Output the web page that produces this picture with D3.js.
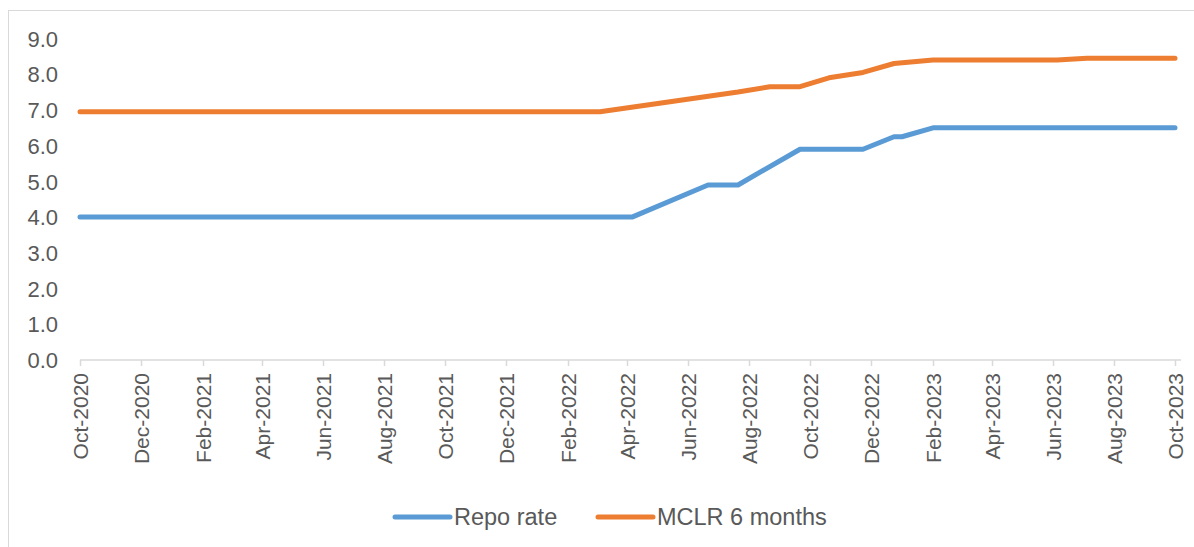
<!DOCTYPE html>
<html>
<head>
<meta charset="utf-8">
<script src="https://cdn.jsdelivr.net/npm/d3@7"></script>
<style>
  html, body { margin: 0; padding: 0; background: #ffffff; }
  svg { display: block; font-family: "Liberation Sans", Arial, sans-serif; }
</style>
</head>
<body>
<svg id="chart" width="1194" height="547"></svg>
<script>
// ---- data ----
const repoDates  = ["2020-10-01","2022-04-06","2022-06-21","2022-07-21","2022-09-21","2022-11-23","2022-12-24","2023-01-01","2023-02-01","2023-10-01"];
const repoValues = [4.0, 4.0, 4.9, 4.9, 5.9, 5.9, 6.25, 6.25, 6.5, 6.5];

const mclrDates  = ["2020-10-01","2022-03-05","2022-05-07","2022-07-21","2022-08-22","2022-09-21","2022-10-20","2022-11-23","2022-12-24","2023-02-01","2023-06-05","2023-07-05","2023-10-01"];
const mclrValues = [6.95, 6.95, 7.2, 7.5, 7.65, 7.65, 7.9, 8.05, 8.3, 8.4, 8.4, 8.45, 8.45];

const xTickDates = ["2020-10-01","2020-12-01","2021-02-01","2021-04-01","2021-06-01","2021-08-01","2021-10-01","2021-12-01","2022-02-01","2022-04-01","2022-06-01","2022-08-01","2022-10-01","2022-12-01","2023-02-01","2023-04-01","2023-06-01","2023-08-01","2023-10-01"];
const yTicks = [0,1,2,3,4,5,6,7,8,9];

const seriesNames  = ["Repo rate", "MCLR 6 months"];
const seriesColors = ["#5b9bd5", "#ed7d31"];

// ---- chart ----
const parse = d3.utcParse("%Y-%m-%d");
const fmtTick = d3.utcFormat("%b-%Y");
const svg = d3.select("#chart");

// outer border
svg.append("rect").attr("x", 8.5).attr("y", 10.5).attr("width", 1200).attr("height", 600)
  .attr("fill", "#fff").attr("stroke", "#d9d9d9").attr("stroke-width", 1);

const x = d3.scaleUtc().domain([parse("2020-10-01"), parse("2023-10-01")]).range([80, 1175]);
const y = d3.scaleLinear().domain([0, 9]).range([360, 38.5]);

// y axis labels
const yAxis = d3.axisLeft(y).tickValues(yTicks).tickFormat(d3.format(".1f")).tickSize(0).tickPadding(0);
const gy = svg.append("g").attr("transform", "translate(58,0)").call(yAxis);
gy.select(".domain").remove();
gy.selectAll("text").attr("fill", "#595959").style("font-size", "22px")
  .attr("font-family", "Liberation Sans, Arial, sans-serif").attr("x", 0).attr("dy", "0.35em");

// x axis
const xAxis = d3.axisBottom(x).tickValues(xTickDates.map(parse)).tickFormat(fmtTick).tickSize(6).tickSizeOuter(0);
const gx = svg.append("g").attr("transform", "translate(0,360)").call(xAxis);
gx.select(".domain").attr("stroke", "#d9d9d9").attr("stroke-width", 1.5).attr("d", "M80,0H1181");
gx.selectAll(".tick line").attr("stroke", "#d9d9d9").attr("stroke-width", 1.5);
gx.selectAll(".tick text")
  .attr("fill", "#595959").style("font-size", "21px")
  .attr("font-family", "Liberation Sans, Arial, sans-serif")
  .attr("text-anchor", "end")
  .attr("transform", "rotate(-90)")
  .attr("x", -13).attr("y", 0).attr("dy", "0.35em");

// lines
const seriesData = [
  repoDates.map((d, i) => ({date: parse(d), value: repoValues[i]})),
  mclrDates.map((d, i) => ({date: parse(d), value: mclrValues[i]}))
];
const line = d3.line().x(d => x(d.date)).y(d => y(d.value));
svg.selectAll("path.series").data(seriesData).enter().append("path")
  .attr("class", "series")
  .attr("d", line)
  .attr("fill", "none")
  .attr("stroke", (d, i) => seriesColors[i])
  .attr("stroke-width", 5)
  .attr("stroke-linejoin", "round")
  .attr("stroke-linecap", "round");

// legend
const legendX = [395, 598];
const lg = svg.append("g");
seriesNames.forEach((name, i) => {
  lg.append("line").attr("x1", legendX[i]).attr("x2", legendX[i] + 55)
    .attr("y1", 517).attr("y2", 517)
    .attr("stroke", seriesColors[i]).attr("stroke-width", 5).attr("stroke-linecap", "round");
  lg.append("text").attr("x", legendX[i] + 59).attr("y", 517).attr("dy", "0.35em")
    .attr("fill", "#595959").style("font-size", "23.5px").text(name);
});
</script>
</body>
</html>
